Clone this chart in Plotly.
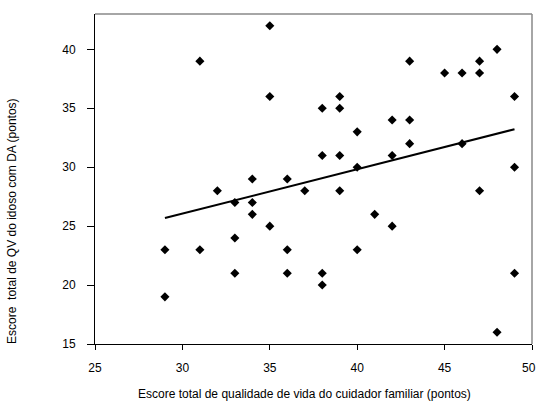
import numpy as np
import plotly.graph_objects as go

# Caregiver QoL score (x) and elderly QoL score (y)
cuidador = [35, 31, 35, 34, 36, 48, 43, 45, 46, 47, 47, 49, 39, 38, 39, 42, 43, 40, 43, 46,
            38, 39, 42, 40, 49, 32, 37, 33, 34, 34, 35, 33, 29, 31, 36, 33, 36, 29, 39, 47,
            41, 42, 40, 38, 38, 49, 48]
idoso = [42, 39, 36, 29, 29, 40, 39, 38, 38, 38, 39, 36, 36, 35, 35, 34, 34, 33, 32, 32,
         31, 31, 31, 30, 30, 28, 28, 27, 27, 26, 25, 24, 23, 23, 23, 21, 21, 19, 28, 28,
         26, 25, 23, 21, 20, 21, 16]

x_ticks = [25, 30, 35, 40, 45, 50]
x_tick_labels = ["25", "30", "35", "40", "45", "50&nbsp;&nbsp;"]
y_ticks = [15, 20, 25, 30, 35, 40]

x_title = "Escore total de qualidade de vida do cuidador familiar (pontos)"
y_title = "Escore&nbsp; total de QV do idoso com DA (pontos)"

slope, intercept = np.polyfit(cuidador, idoso, 1)
line_x = [min(cuidador), max(cuidador)]
line_y = [slope * v + intercept for v in line_x]

fig = go.Figure()
fig.add_trace(go.Scatter(x=cuidador, y=idoso, mode="markers",
                         marker=dict(symbol="diamond", size=7, color="black"),
                         showlegend=False, cliponaxis=False, hoverinfo="skip"))
fig.add_trace(go.Scatter(x=line_x, y=line_y, mode="lines",
                         line=dict(color="black", width=2), showlegend=False,
                         hoverinfo="skip"))

family = "Liberation Sans, Arial, sans-serif"
tick_font = dict(family=family, size=12, color="black")
title_font = dict(family=family, size=12, color="black")
fig.update_layout(
    template="none",
    width=536, height=401,
    margin=dict(l=95, r=4, t=14, b=57, autoexpand=False),
    paper_bgcolor="white", plot_bgcolor="white",
    font=tick_font,
    xaxis=dict(range=[25, 50], tickvals=x_ticks, ticktext=x_tick_labels,
               showgrid=False, zeroline=False,
               automargin=False, tickfont=tick_font,
               showline=True, linecolor="black", linewidth=1, mirror=False,
               ticks="outside", ticklen=5, tickcolor="black",
               ticklabeloverflow="allow", ticklabelstandoff=8),
    yaxis=dict(range=[15, 43], tickvals=y_ticks, showgrid=False, zeroline=False,
               automargin=False, tickfont=tick_font,
               showline=True, linecolor="black", linewidth=1,
               ticks="outside", ticklen=7, tickcolor="black",
               ticklabelstandoff=9),
    annotations=[
        dict(text=x_title, xref="paper", yref="paper", x=0.48, y=0,
             xanchor="center", yanchor="middle", yshift=-50,
             showarrow=False, font=title_font),
        dict(text=y_title, xref="paper", yref="paper", x=0, y=0.37,
             xanchor="center", yanchor="middle", xshift=-83, textangle=-90,
             showarrow=False, font=title_font),
    ],
    shapes=[
        dict(type="line", xref="paper", yref="paper", x0=0, x1=1, y0=1, y1=1,
             line=dict(color="#888888", width=1.5)),
        dict(type="line", xref="paper", yref="paper", x0=1, x1=1, y0=0, y1=1,
             line=dict(color="#888888", width=1.5)),
    ],
)

fig.write_html("out.html", config={"displayModeBar": False},
               post_script="document.body.style.margin='0';document.body.style.overflow='hidden';")
